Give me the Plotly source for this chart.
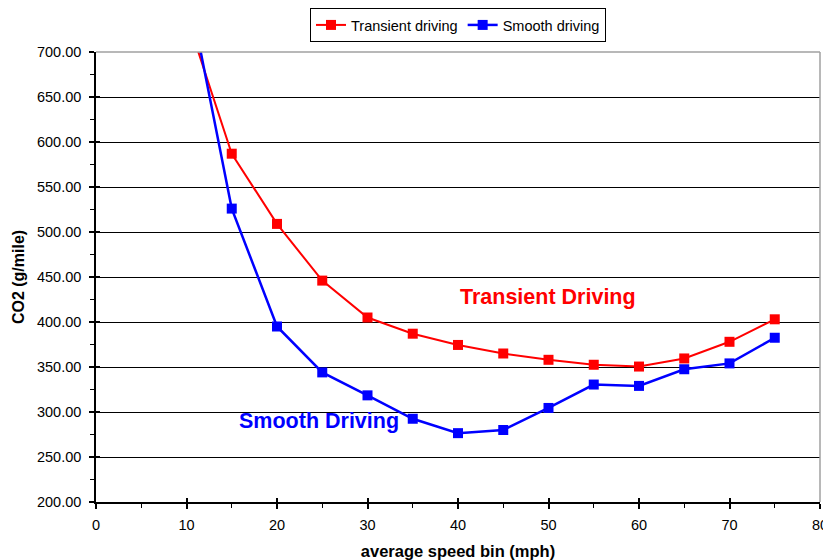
import plotly.graph_objects as go

speed_bins = [10, 15, 20, 25, 30, 35, 40, 45, 50, 55, 60, 65, 70, 75]
transient_co2 = [740, 587, 509, 446, 405, 387, 374.5, 365, 358, 352.5, 350.5, 359.5, 378, 403]
smooth_co2 = [780, 526, 395, 344, 318.5, 292.5, 276.5, 280, 304.5, 330.5, 329, 347.5, 354, 382.5]

x_ticks = [0, 10, 20, 30, 40, 50, 60, 70, 80]
y_ticks = [200, 250, 300, 350, 400, 450, 500, 550, 600, 650, 700]

FONT = "Liberation Sans, Arial, sans-serif"
# page body has an 8px margin, so the figure is shifted by 8px in the window
OFF = 8
W, H = 831 - OFF, 560 - OFF
L, R, T, B = 96 - OFF, 11, 52 - OFF, 58
PW, PH = W - L - R, H - T - B

fig = go.Figure()
fig.add_trace(go.Scatter(
    x=speed_bins, y=transient_co2, name="Transient driving",
    mode="lines+markers",
    line=dict(color="#FF0000", width=2),
    marker=dict(symbol="square", size=10, color="#FF0000"),
))
fig.add_trace(go.Scatter(
    x=speed_bins, y=smooth_co2, name="Smooth driving",
    mode="lines+markers",
    line=dict(color="#0000FF", width=2.5),
    marker=dict(symbol="square", size=10, color="#0000FF"),
))

fig.update_layout(
    width=W, height=H,
    margin=dict(l=L, r=R, t=T, b=B, autoexpand=False),
    paper_bgcolor="white", plot_bgcolor="white",
    font=dict(family=FONT, size=14, color="black"),
    showlegend=True,
    legend=dict(
        orientation="h", x=0.5, xanchor="center",
        y=1.0, yanchor="top", yref="container",
        bordercolor="black", borderwidth=1, bgcolor="white",
        font=dict(family=FONT, size=14.5, color="black"),
        itemwidth=30, tracegroupgap=0,
    ),
    xaxis=dict(
        range=[0, 80], tickvals=x_ticks, ticktext=[str(v) for v in x_ticks],
        showgrid=False, zeroline=False, automargin=False,
        showline=True, linecolor="black", linewidth=1.5,
        ticks="outside", ticklen=5, tickwidth=1.5, tickcolor="black",
        minor=dict(dtick=5, ticks="outside", ticklen=4, tickwidth=1, tickcolor="black"),
        tickfont=dict(family=FONT, size=14.5), ticklabelstandoff=4,
        title=dict(text="<b>average speed bin (mph)</b>", font=dict(family=FONT, size=16.5), standoff=14),
    ),
    yaxis=dict(
        range=[200, 700], tickvals=y_ticks, ticktext=[f"{v:.2f}" for v in y_ticks],
        showgrid=True, gridcolor="black", gridwidth=1, zeroline=False, automargin=False,
        showline=True, linecolor="black", linewidth=1.5,
        ticks="outside", ticklen=5, tickwidth=1.5, tickcolor="black",
        minor=dict(dtick=25, ticks="outside", ticklen=4, tickwidth=1, tickcolor="black", showgrid=False),
        tickfont=dict(family=FONT, size=14.5), ticklabelstandoff=5,
        title=dict(text="<b>CO2 (g/mile)</b>", font=dict(family=FONT, size=16), standoff=8),
    ),
    # overlay axes to draw the inner half of the crossing major ticks
    xaxis2=dict(
        overlaying="x", matches="x", range=[0, 80], tickvals=x_ticks, showticklabels=False,
        showgrid=False, zeroline=False, showline=False, automargin=False,
        ticks="inside", ticklen=4, tickwidth=1.5, tickcolor="black", side="bottom",
    ),
    yaxis2=dict(
        overlaying="y", matches="y", range=[200, 700], tickvals=y_ticks, showticklabels=False,
        showgrid=False, zeroline=False, showline=False, automargin=False,
        ticks="inside", ticklen=4, tickwidth=1.5, tickcolor="black", side="left",
    ),
)

# invisible trace to activate the overlay axes
fig.add_trace(go.Scatter(x=[None], y=[None], xaxis="x2", yaxis="y2",
                         showlegend=False, hoverinfo="skip"))

# gray plot-area border on top and right
fig.add_shape(type="line", xref="paper", yref="paper", x0=0, x1=1, y0=1, y1=1,
              line=dict(color="#A0A0A0", width=1.5), layer="above")
fig.add_shape(type="line", xref="paper", yref="paper", x0=1, x1=1, y0=0, y1=1,
              line=dict(color="#A0A0A0", width=1.5), layer="above")

# annotation positions given in window pixels, converted to paper fractions
def px_to_paper(xw, yw):
    return (xw - 96) / PW, (502 - yw) / PH

tx, ty = px_to_paper(548, 297)
sx, sy = px_to_paper(318.5, 421)
fig.add_annotation(x=tx, y=ty, xref="paper", yref="paper",
                   text="<b>Transient Driving</b>", showarrow=False,
                   font=dict(family=FONT, size=21.5, color="#FF0000"),
                   xanchor="center", yanchor="middle")
fig.add_annotation(x=sx, y=sy, xref="paper", yref="paper",
                   text="<b>Smooth Driving</b>", showarrow=False,
                   font=dict(family=FONT, size=21.5, color="#0000FF"),
                   xanchor="center", yanchor="middle")

fig.write_html("out.html")
